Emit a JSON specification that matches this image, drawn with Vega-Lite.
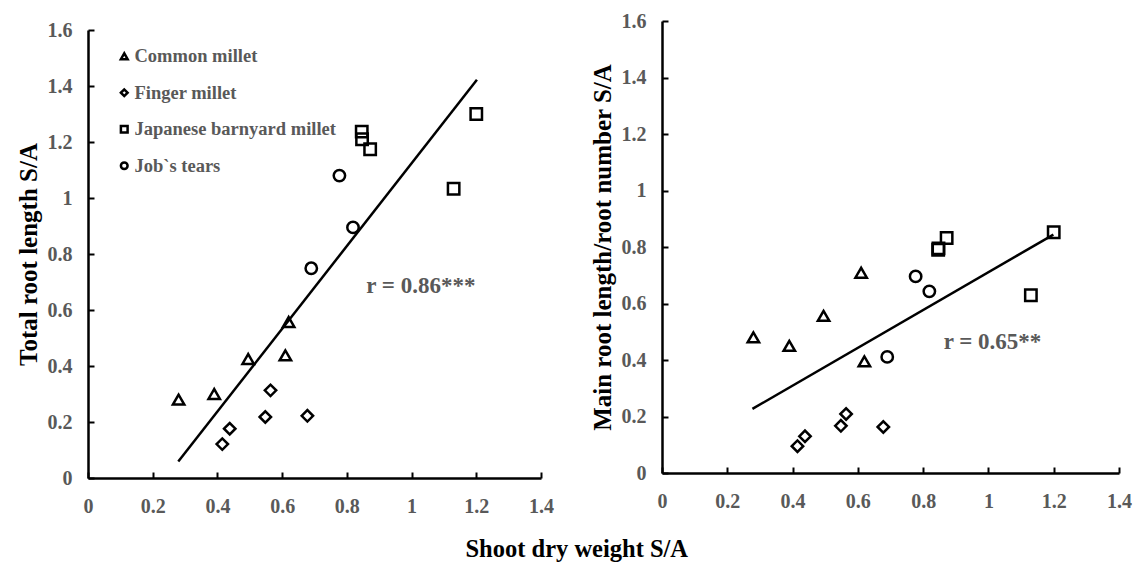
{
  "$schema": "https://vega.github.io/schema/vega-lite/v6.json",
  "background": "white",
  "padding": {"left": 16, "top": 11, "right": 5, "bottom": 5},
  "datasets": {
    "pts": [
      {"species": "Common millet", "shoot": 0.28, "trl": 0.28, "mrl": 0.48},
      {"species": "Common millet", "shoot": 0.39, "trl": 0.30, "mrl": 0.45},
      {"species": "Common millet", "shoot": 0.495, "trl": 0.425, "mrl": 0.556},
      {"species": "Common millet", "shoot": 0.61, "trl": 0.438, "mrl": 0.709},
      {"species": "Common millet", "shoot": 0.62, "trl": 0.557, "mrl": 0.395},
      {"species": "Finger millet", "shoot": 0.415, "trl": 0.121, "mrl": 0.095},
      {"species": "Finger millet", "shoot": 0.438, "trl": 0.176, "mrl": 0.13},
      {"species": "Finger millet", "shoot": 0.548, "trl": 0.218, "mrl": 0.167},
      {"species": "Finger millet", "shoot": 0.564, "trl": 0.313, "mrl": 0.209},
      {"species": "Finger millet", "shoot": 0.678, "trl": 0.222, "mrl": 0.163},
      {"species": "Japanese barnyard millet", "shoot": 0.846, "trl": 1.237, "mrl": 0.79},
      {"species": "Japanese barnyard millet", "shoot": 0.847, "trl": 1.21, "mrl": 0.795},
      {"species": "Japanese barnyard millet", "shoot": 0.872, "trl": 1.174, "mrl": 0.832},
      {"species": "Japanese barnyard millet", "shoot": 1.13, "trl": 1.033, "mrl": 0.629},
      {"species": "Japanese barnyard millet", "shoot": 1.2, "trl": 1.30, "mrl": 0.852},
      {"species": "Job`s tears", "shoot": 0.777, "trl": 1.08, "mrl": 0.696},
      {"species": "Job`s tears", "shoot": 0.819, "trl": 0.895, "mrl": 0.643},
      {"species": "Job`s tears", "shoot": 0.69, "trl": 0.749, "mrl": 0.411}
    ],
    "lines": [
      {"panel": "left", "x": 0.279, "y": 0.059},
      {"panel": "left", "x": 1.202, "y": 1.422},
      {"panel": "right", "x": 0.277, "y": 0.227},
      {"panel": "right", "x": 1.199, "y": 0.844}
    ],
    "notes": [
      {"panel": "left", "x": 0.86, "y": 0.686, "label": "r = 0.86***"},
      {"panel": "right", "x": 0.863, "y": 0.464, "label": "r = 0.65**"}
    ]
  },
  "title": {
    "text": "Shoot dry weight S/A",
    "orient": "bottom",
    "anchor": "middle",
    "font": "Liberation Serif",
    "fontSize": 24.5,
    "fontWeight": "bold",
    "color": "black",
    "offset": 22,
    "dx": 3
  },
  "config": {
    "view": {"stroke": null},
    "axis": {
      "grid": false,
      "domainColor": "black",
      "domainWidth": 2.5,
      "tickColor": "black",
      "tickWidth": 2,
      "tickSize": -6,
      "labelFlush": false,
      "labelFont": "Liberation Serif",
      "labelFontSize": 20,
      "labelFontWeight": "bold",
      "labelColor": "#595959",
      "titleFont": "Liberation Serif",
      "titleFontSize": 25,
      "titleFontWeight": "bold",
      "titleColor": "black",
      "titlePadding": 6
    },
    "axisX": {"labelPadding": 24},
    "axisY": {"labelPadding": 22}
  },
  "resolve": {"scale": {"shape": "independent"}, "legend": {"shape": "independent"}},
  "spacing": 36,
  "hconcat": [
    {
      "width": 453,
      "height": 457,
      "layer": [
        {
          "data": {"name": "pts"},
          "mark": {"type": "point", "filled": false, "color": "black", "strokeWidth": 2.5, "size": 130, "opacity": 1},
          "encoding": {
            "x": {"field": "shoot", "type": "quantitative", "scale": {"domain": [0, 1.4], "nice": false},
                  "axis": {"title": null, "values": [0, 0.2, 0.4, 0.6, 0.8, 1, 1.2, 1.4], "format": "~g"}},
            "y": {"field": "trl", "type": "quantitative", "scale": {"domain": [0, 1.6], "nice": false, "range": [457, 9]},
                  "axis": {"title": "Total root length S/A", "values": [0, 0.2, 0.4, 0.6, 0.8, 1, 1.2, 1.4, 1.6], "format": "~g"}},
            "shape": {"field": "species", "type": "nominal",
                      "scale": {"domain": ["Common millet", "Finger millet", "Japanese barnyard millet", "Job`s tears"],
                                "range": ["triangle-up", "diamond", "square", "circle"]},
                      "legend": {"orient": "none", "legendX": 27, "legendY": 26, "title": null,
                                 "labelFont": "Liberation Serif", "labelFontSize": 18.5, "labelFontWeight": "bold",
                                 "labelColor": "#595959", "labelLimit": 0, "symbolStrokeWidth": 2.5, "symbolSize": 45,
                                 "symbolStrokeColor": "black", "symbolFillColor": "white", "rowPadding": 17.5, "labelOffset": 1}}
          }
        },
        {
          "data": {"name": "lines"},
          "transform": [{"filter": "datum.panel === 'left'"}],
          "mark": {"type": "line", "color": "black", "strokeWidth": 2.5},
          "encoding": {
            "x": {"field": "x", "type": "quantitative"},
            "y": {"field": "y", "type": "quantitative"}
          }
        },
        {
          "data": {"name": "notes"},
          "transform": [{"filter": "datum.panel === 'left'"}],
          "mark": {"type": "text", "align": "left", "baseline": "middle", "font": "Liberation Serif", "fontSize": 23, "fontWeight": "bold", "color": "#595959"},
          "encoding": {
            "x": {"field": "x", "type": "quantitative"},
            "y": {"field": "y", "type": "quantitative"},
            "text": {"field": "label"}
          }
        }
      ]
    },
    {
      "width": 457,
      "height": 452,
      "layer": [
        {
          "data": {"name": "pts"},
          "mark": {"type": "point", "filled": false, "color": "black", "strokeWidth": 2.5, "size": 130, "opacity": 1},
          "encoding": {
            "x": {"field": "shoot", "type": "quantitative", "scale": {"domain": [0, 1.4], "nice": false},
                  "axis": {"title": null, "values": [0, 0.2, 0.4, 0.6, 0.8, 1, 1.2, 1.4], "format": "~g"}},
            "y": {"field": "mrl", "type": "quantitative", "scale": {"domain": [0, 1.6], "nice": false},
                  "axis": {"title": "Main root length/root number S/A", "values": [0, 0.2, 0.4, 0.6, 0.8, 1, 1.2, 1.4, 1.6], "format": "~g"}},
            "shape": {"field": "species", "type": "nominal",
                      "scale": {"domain": ["Common millet", "Finger millet", "Japanese barnyard millet", "Job`s tears"],
                                "range": ["triangle-up", "diamond", "square", "circle"]},
                      "legend": null}
          }
        },
        {
          "data": {"name": "lines"},
          "transform": [{"filter": "datum.panel === 'right'"}],
          "mark": {"type": "line", "color": "black", "strokeWidth": 2.5},
          "encoding": {
            "x": {"field": "x", "type": "quantitative"},
            "y": {"field": "y", "type": "quantitative"}
          }
        },
        {
          "data": {"name": "notes"},
          "transform": [{"filter": "datum.panel === 'right'"}],
          "mark": {"type": "text", "align": "left", "baseline": "middle", "font": "Liberation Serif", "fontSize": 23, "fontWeight": "bold", "color": "#595959"},
          "encoding": {
            "x": {"field": "x", "type": "quantitative"},
            "y": {"field": "y", "type": "quantitative"},
            "text": {"field": "label"}
          }
        }
      ]
    }
  ]
}
